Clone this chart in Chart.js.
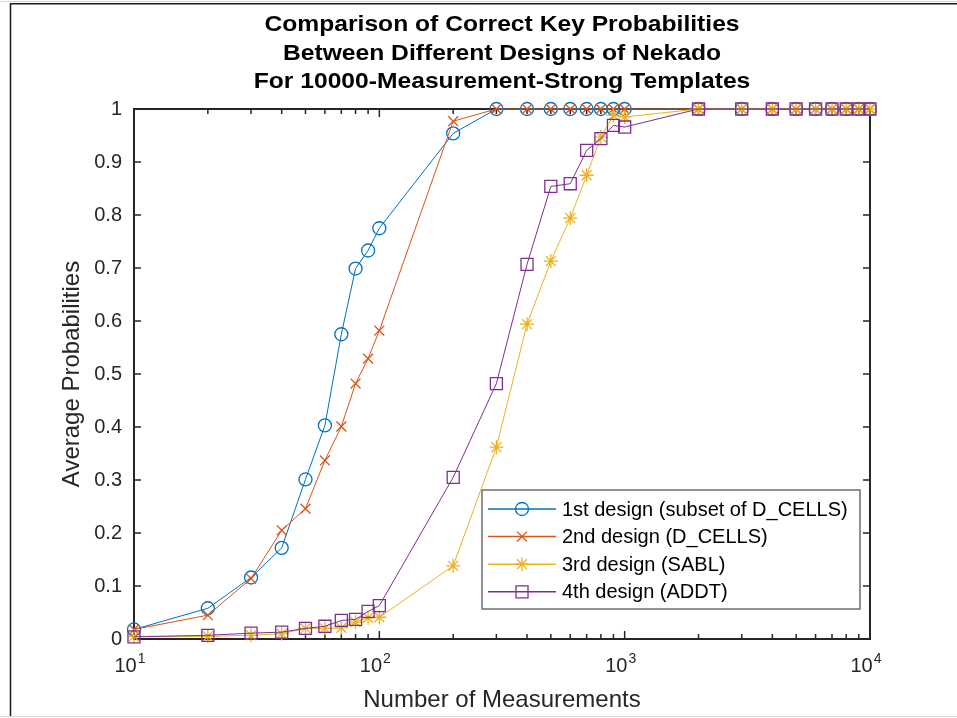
<!DOCTYPE html>
<html>
<head>
<meta charset="utf-8">
<title>Correct Key Probabilities</title>
<script src="https://cdn.jsdelivr.net/npm/chart.js@4/dist/chart.umd.min.js"></script>
<style>
  html, body { margin: 0; padding: 0; background: #ffffff; }
  #wrap { width: 957px; height: 718px; }
</style>
</head>
<body>
<div id="wrap"><canvas id="chart" width="957" height="718"></canvas></div>
<script>
// Number of measurements (log-spaced sample points)
const measurements = [10, 20, 30, 40, 50, 60, 70, 80, 90, 100,
  200, 300, 400, 500, 600, 700, 800, 900, 1000,
  2000, 3000, 4000, 5000, 6000, 7000, 8000, 9000, 10000];

// Average probability of recovering the correct key, per design
const design1 = [0.018, 0.058, 0.116, 0.172, 0.301, 0.403, 0.575, 0.699, 0.733, 0.775,
  0.954, 1, 1, 1, 1, 1, 1, 1, 1,
  1, 1, 1, 1, 1, 1, 1, 1, 1];
const design2 = [0.018, 0.045, 0.114, 0.205, 0.246, 0.337, 0.401, 0.482, 0.529, 0.582,
  0.977, 1, 1, 1, 1, 1, 1, 1, 1,
  1, 1, 1, 1, 1, 1, 1, 1, 1];
const design3 = [0.005, 0.005, 0.007, 0.010, 0.020, 0.020, 0.021, 0.032, 0.040, 0.041,
  0.138, 0.362, 0.594, 0.713, 0.794, 0.875, 0.947, 0.988, 0.985,
  1, 1, 1, 1, 1, 1, 1, 1, 1];
const design4 = [0.004, 0.007, 0.011, 0.013, 0.020, 0.024, 0.035, 0.037, 0.052, 0.063,
  0.305, 0.482, 0.707, 0.854, 0.859, 0.922, 0.944, 0.969, 0.966,
  1, 1, 1, 1, 1, 1, 1, 1, 1];

const seriesNames = [
  '1st design (subset of D_CELLS)',
  '2nd design (D_CELLS)',
  '3rd design (SABL)',
  '4th design (ADDT)'
];

const titleLines = [
  'Comparison of Correct Key Probabilities',
  'Between Different Designs of Nekado',
  'For 10000-Measurement-Strong Templates'
];

// Decade ticks on the log axis, labelled as base with a raised exponent
const xTickValues = [10, 100, 1000, 10000];
const xTickBase = '10';
const xTickExponents = ['1', '2', '3', '4'];
const yTickValues = [0, 0.1, 0.2, 0.3, 0.4, 0.5, 0.6, 0.7, 0.8, 0.9, 1];
const yTickLabels = ['0', '0.1', '0.2', '0.3', '0.4', '0.5', '0.6', '0.7', '0.8', '0.9', '1'];

const FONT = "'Liberation Sans', Arial, Helvetica, sans-serif";
const AXIS_COLOR = '#262626';

const styles = [
  { color: '#0072BD', pointStyle: 'circle', radius: 6.5, order: 4 },
  { color: '#D95319', pointStyle: 'crossRot', radius: 7, order: 3 },
  { color: '#EDB120', pointStyle: 'star', radius: 7, order: 2 },
  { color: '#7E2F8E', pointStyle: 'rect', radius: 8.5, order: 1 }
];

const seriesValues = [design1, design2, design3, design4];

const datasets = seriesValues.map((vals, i) => ({
  label: seriesNames[i],
  data: vals.map((v, k) => ({ x: measurements[k], y: v })),
  borderColor: styles[i].color,
  backgroundColor: 'transparent',
  borderWidth: 1,
  pointStyle: styles[i].pointStyle,
  pointRadius: styles[i].radius,
  pointHoverRadius: styles[i].radius,
  pointBorderColor: styles[i].color,
  pointBackgroundColor: 'transparent',
  pointBorderWidth: 1.3,
  tension: 0,
  clip: false,
  order: styles[i].order
}));

// Marker painter shared by the legend
function drawMarker(ctx, style, x, y, r) {
  ctx.beginPath();
  if (style === 'circle') {
    ctx.arc(x, y, r, 0, Math.PI * 2);
  } else if (style === 'rect') {
    const s = r * Math.SQRT1_2;
    ctx.rect(x - s, y - s, 2 * s, 2 * s);
  } else if (style === 'crossRot') {
    const d = r * Math.SQRT1_2;
    ctx.moveTo(x - d, y - d); ctx.lineTo(x + d, y + d);
    ctx.moveTo(x - d, y + d); ctx.lineTo(x + d, y - d);
  } else if (style === 'star') {
    const d = r * Math.SQRT1_2;
    ctx.moveTo(x - r, y); ctx.lineTo(x + r, y);
    ctx.moveTo(x, y - r); ctx.lineTo(x, y + r);
    ctx.moveTo(x - d, y - d); ctx.lineTo(x + d, y + d);
    ctx.moveTo(x - d, y + d); ctx.lineTo(x + d, y - d);
  }
  ctx.stroke();
}

// Outer figure frame, axes box and inward tick marks
const framePlugin = {
  id: 'frame',
  beforeDraw(chart) {
    const ctx = chart.ctx;
    ctx.save();
    ctx.fillStyle = '#ffffff';
    ctx.fillRect(0, 0, chart.width, chart.height);
    ctx.strokeStyle = '#d4d4d4';
    ctx.lineWidth = 1;
    ctx.beginPath();
    ctx.moveTo(0, 1.5); ctx.lineTo(chart.width, 1.5);
    ctx.moveTo(0, 716.5); ctx.lineTo(chart.width, 716.5);
    ctx.stroke();
    ctx.strokeStyle = '#1a1a1a';
    ctx.lineWidth = 1.5;
    ctx.beginPath();
    ctx.moveTo(10.5, 716); ctx.lineTo(10.5, 3.75); ctx.lineTo(chart.width, 3.75);
    ctx.stroke();
    ctx.restore();
  },
  beforeDatasetsDraw(chart) {
    const { ctx, chartArea: a, scales } = chart;
    const xs = scales.x, ys = scales.y;
    ctx.save();
    ctx.strokeStyle = AXIS_COLOR;
    ctx.lineWidth = 1.5;
    ctx.beginPath();
    // log-axis ticks: long at decades, short in between
    for (let d = 10; d <= 10000; d *= 10) {
      for (let m = 1; m <= 9; m++) {
        const v = d * m;
        if (v > 10000) break;
        const px = xs.getPixelForValue(v);
        const len = m === 1 ? 8 : 5;
        ctx.moveTo(px, a.bottom); ctx.lineTo(px, a.bottom - len);
        ctx.moveTo(px, a.top); ctx.lineTo(px, a.top + len);
      }
    }
    yTickValues.forEach(v => {
      const py = ys.getPixelForValue(v);
      ctx.moveTo(a.left, py); ctx.lineTo(a.left + 7, py);
      ctx.moveTo(a.right, py); ctx.lineTo(a.right - 7, py);
    });
    ctx.stroke();
    ctx.lineWidth = 2;
    ctx.strokeRect(a.left, a.top, a.right - a.left, a.bottom - a.top);

    // decade labels with superscript exponents
    ctx.fillStyle = AXIS_COLOR;
    ctx.textBaseline = 'alphabetic';
    ctx.textAlign = 'left';
    xTickValues.forEach((v, i) => {
      const px = xs.getPixelForValue(v);
      ctx.font = '20px ' + FONT;
      const wb = ctx.measureText(xTickBase).width;
      ctx.font = '14px ' + FONT;
      const we = ctx.measureText(xTickExponents[i]).width;
      const x0 = px - 4 - (wb + we + 1) / 2;
      ctx.font = '20px ' + FONT;
      ctx.fillText(xTickBase, x0, a.bottom + 33);
      ctx.font = '14px ' + FONT;
      ctx.fillText(xTickExponents[i], x0 + wb + 1, a.bottom + 24);
    });
    ctx.restore();
  },
  afterDraw(chart) {
    // three-line bold title centred over the axes
    const { ctx, chartArea: a } = chart;
    const cx = (a.left + a.right) / 2;
    ctx.save();
    ctx.fillStyle = '#000000';
    ctx.font = 'bold 22px ' + FONT;
    ctx.textAlign = 'center';
    ctx.textBaseline = 'middle';
    titleLines.forEach((line, i) => {
      ctx.save();
      ctx.translate(cx, 25 + i * 28.5);
      ctx.scale(1.12, 1);
      ctx.fillText(line, 0, 0);
      ctx.restore();
    });
    ctx.restore();
  }
};

// Boxed legend in the lower right of the axes
const boxLegendPlugin = {
  id: 'boxLegend',
  afterDatasetsDraw(chart) {
    const { ctx, chartArea: a } = chart;
    const w = 378, h = 119;
    const x0 = a.right - 10 - w;
    const y0 = a.bottom - 30 - h;
    ctx.save();
    ctx.fillStyle = '#ffffff';
    ctx.fillRect(x0, y0, w, h);
    ctx.strokeStyle = '#6e6e6e';
    ctx.lineWidth = 1.5;
    ctx.strokeRect(x0, y0, w, h);
    ctx.font = '20px ' + FONT;
    ctx.textBaseline = 'middle';
    ctx.textAlign = 'left';
    chart.data.datasets.forEach((ds, i) => {
      const y = y0 + 19 + i * 27.6;
      ctx.strokeStyle = ds.borderColor;
      ctx.lineWidth = 1.5;
      ctx.beginPath();
      ctx.moveTo(x0 + 6, y); ctx.lineTo(x0 + 74, y);
      ctx.stroke();
      ctx.lineWidth = 1.3;
      drawMarker(ctx, ds.pointStyle, x0 + 40, y, ds.pointRadius);
      ctx.fillStyle = '#000000';
      ctx.fillText(ds.label, x0 + 80, y + 1);
    });
    ctx.restore();
  }
};

new Chart(document.getElementById('chart'), {
  type: 'line',
  data: { datasets },
  plugins: [framePlugin, boxLegendPlugin],
  options: {
    responsive: false,
    animation: false,
    events: [],
    layout: { padding: { left: 0, right: 87, top: 109, bottom: 0 } },
    plugins: {
      legend: { display: false },
      tooltip: { enabled: false },
      title: { display: false }
    },
    scales: {
      x: {
        type: 'logarithmic',
        min: 10,
        max: 10000,
        afterBuildTicks: s => { s.ticks = xTickValues.map(v => ({ value: v, major: true })); },
        afterFit: s => { s.height = 79; },
        grid: { display: false, drawTicks: false },
        border: { display: false },
        ticks: { display: false },
        title: {
          display: true,
          text: 'Number of Measurements',
          color: AXIS_COLOR,
          font: { family: FONT, size: 24, lineHeight: 1 },
          padding: { top: 0, bottom: 6 }
        }
      },
      y: {
        min: 0,
        max: 1,
        afterBuildTicks: s => { s.ticks = yTickValues.map(v => ({ value: v })); },
        afterFit: s => { s.width = 134; },
        grid: { display: false, drawTicks: false },
        border: { display: false },
        ticks: {
          padding: 12,
          color: AXIS_COLOR,
          font: { family: FONT, size: 20 },
          callback: (v) => yTickLabels[yTickValues.indexOf(v)]
        },
        title: {
          display: true,
          text: 'Average Probabilities',
          color: AXIS_COLOR,
          font: { family: FONT, size: 24, lineHeight: 1 },
          padding: { top: 60, bottom: 0 }
        }
      }
    }
  }
});
</script>
</body>
</html>
